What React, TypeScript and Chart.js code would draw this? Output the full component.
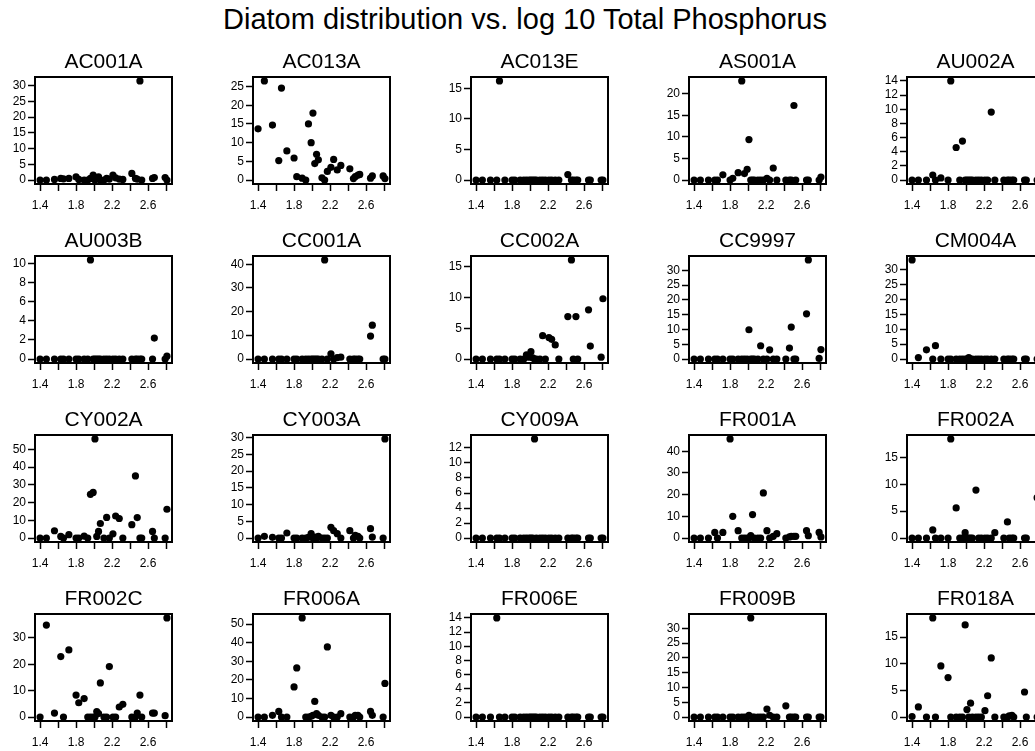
import React, { useEffect, useRef } from "react";
import { Chart, registerables } from "chart.js";

Chart.register(...registerables);

const FONT = '"Liberation Sans", Arial, Helvetica, sans-serif';

const mainTitle = "Diatom distribution vs. log 10 Total Phosphorus";

// log10 total phosphorus of each sampling site
const logTP = [
  1.4, 1.47, 1.56, 1.63, 1.66, 1.72, 1.8, 1.83, 1.89, 1.93, 1.96, 1.99, 2.01, 2.03, 2.05, 2.07,
  2.11, 2.14, 2.17, 2.21, 2.24, 2.28, 2.32, 2.42, 2.46, 2.48, 2.51, 2.53, 2.65, 2.67, 2.79, 2.81,
];

const xTicks = [1.4, 1.6, 1.8, 2.0, 2.2, 2.4, 2.6, 2.8];
const xTickLabels = ["1.4", "1.8", "2.2", "2.6"];

const taxa = [
  "AC001A", "AC013A", "AC013E", "AS001A", "AU002A",
  "AU003B", "CC001A", "CC002A", "CC9997", "CM004A",
  "CY002A", "CY003A", "CY009A", "FR001A", "FR002A",
  "FR002C", "FR006A", "FR006E", "FR009B", "FR018A",
];

// y tick step for each panel
const yTickSteps = [5, 5, 5, 5, 2, 2, 10, 5, 5, 5, 10, 5, 2, 10, 5, 10, 10, 2, 5, 5];

// abundance (%) of each taxon at each site (same order as logTP)
const ac001a = [0, 0, 0.2, 0.5, 0.4, 0.5, 1.0, 0.2, 0, 0, 0.5, 1.6, 0, 0.8, 1.0, 0, 0, 0.5, 0.3, 1.6, 0.7, 0.3, 0.2, 2.1, 0.5, 0.3, 31.5, 0, 0.5, 0.8, 0.8, 0];
const ac013a = [13.7, 26.5, 14.7, 5.2, 24.6, 7.8, 5.9, 0.9, 0.5, 0, 15.0, 10.0, 17.9, 4.4, 6.9, 5.4, 0.6, 0, 2.3, 3.4, 5.5, 2.7, 3.9, 3.0, 0.4, 0.9, 1.3, 1.5, 0.5, 1.1, 1.1, 0.4];
const ac013e = [0, 0, 0, 0, 16.2, 0, 0, 0, 0, 0, 0, 0, 0, 0, 0, 0, 0, 0, 0, 0, 0, 0, 0, 0.9, 0, 0, 0, 0, 0, 0, 0, 0];
const as001a = [0, 0, 0, 0, 0, 1.2, 0, 0.4, 1.7, 23.0, 1.5, 2.5, 9.4, 0, 0, 0, 0, 0, 0, 0.4, 0, 2.8, 0, 0, 0, 0, 17.3, 0, 0, 0, 0, 0.7];
const au002a = [0, 0, 0, 0.7, 0, 0.3, 0, 14.0, 4.6, 0, 5.5, 0, 0, 0, 0, 0, 0, 0, 0, 0, 0, 9.6, 0, 0, 0, 0, 0, 0, 0, 0, 0, 0];
const au003b = [0, 0, 0, 0, 0, 0, 0, 0, 0, 0, 10.4, 0, 0, 0, 0, 0, 0, 0, 0, 0, 0, 0, 0, 0, 0, 0, 0, 0, 0, 2.2, 0, 0.3];
const cc001a = [0, 0, 0, 0, 0, 0, 0, 0, 0, 0, 0, 0, 0, 0, 0, 0, 0, 41.8, 0, 2.2, 0, 0.6, 0.8, 0, 0, 0, 0, 0, 9.7, 14.3, 0, 0];
const cc002a = [0, 0, 0, 0, 0, 0, 0, 0, 0, 0, 0.7, 0.3, 1.2, 0.2, 0, 0, 0, 3.8, 0, 3.5, 3.2, 2.3, 0, 6.9, 16.1, 0, 6.9, 0, 8.0, 2.1, 0.3, 9.8];
const cc9997 = [0, 0, 0, 0, 0, 0, 0, 0, 0, 0, 0, 0, 9.9, 0, 0, 0, 0, 4.5, 0, 0, 3.1, 0, 0, 0, 3.7, 10.8, 0, 0, 15.3, 33.5, 0.2, 3.2];
const cm004a = [33.3, 0.5, 3.1, 0, 4.5, 0, 0, 0, 0, 0, 0, 0, 0, 0.5, 0, 0, 0, 0, 0, 0, 0, 0, 0, 0, 0, 0, 0, 0, 0, 0, 0, 0];
const cy002a = [0, 0, 4.1, 0.9, 0, 1.9, 0, 0, 1.1, 0, 24.6, 25.7, 55.8, 0.9, 3.7, 8.2, 0, 11.6, 0, 2.4, 12.4, 11.0, 0, 7.5, 35.0, 11.5, 0, 0, 3.7, 0, 0, 16.2];
const cy003a = [0, 0.5, 0.2, 0, 0, 1.5, 0, 0, 0, 0, 0.2, 1.3, 0, 0.3, 0, 0.5, 0, 0, 0, 3.2, 2.2, 1.3, 0, 2.2, 0, 0.8, 0.5, 0, 2.8, 0.3, 0, 29.6];
const cy009a = [0, 0, 0, 0, 0, 0, 0, 0, 0, 0, 0, 0, 0, 0, 13.2, 0, 0, 0, 0, 0, 0, 0, 0, 0, 0, 0, 0, 0, 0, 0, 0, 0];
const fr001a = [0, 0, 0, 2.6, 0, 2.6, 45.7, 10.0, 3.4, 0, 0, 0, 0, 1.1, 10.8, 0, 0, 0, 20.8, 3.4, 0, 0.8, 2.0, 0, 0.5, 0.8, 0.8, 0.8, 3.4, 1.1, 2.6, 0.5];
const fr002a = [0, 0, 0, 1.5, 0, 0, 0, 18.4, 5.6, 0, 0, 1.0, 0, 0, 0, 0, 8.9, 0, 0, 0, 0, 0, 1.0, 0, 3.0, 0, 0, 0, 0, 0, 7.5, 0];
const fr002c = [0, 34.8, 1.5, 22.9, 0, 25.4, 8.3, 5.4, 7.0, 0, 0, 0, 0, 2.1, 1.3, 12.9, 0, 0, 19.1, 0, 0, 3.8, 4.8, 0, 0, 1.5, 8.3, 0, 1.5, 1.5, 0.5, 37.5];
const fr006a = [0, 0, 0.9, 3.0, 0, 0, 16.2, 26.4, 53.3, 0, 0, 0.4, 0.9, 8.4, 1.8, 0.9, 0, 0, 37.7, 0.9, 0, 0, 1.8, 0, 0, 0.9, 0.9, 0, 3.0, 0.9, 0, 18.1];
const fr006e = [0, 0, 0, 14.0, 0, 0, 0, 0, 0, 0, 0, 0, 0, 0, 0, 0, 0, 0, 0, 0, 0, 0, 0, 0, 0, 0, 0, 0, 0, 0, 0, 0];
const fr009b = [0, 0, 0, 0, 0, 0, 0, 0, 0, 0, 0, 0, 0.6, 33.5, 0, 0, 0, 0, 0, 2.7, 0.6, 0, 0, 3.8, 0, 0, 0, 0, 0, 0, 0, 0];
const fr018a = [0.1, 1.9, 0, 18.6, 0, 9.6, 7.4, 0, 0, 0, 0, 17.3, 1.4, 0, 2.6, 0, 0, 0, 0, 1.2, 4.0, 11.1, 0, 0, 0, 0.2, 0.3, 0, 4.7, 0, 0, 0];

const panelValues = [
  ac001a, ac013a, ac013e, as001a, au002a,
  au003b, cc001a, cc002a, cc9997, cm004a,
  cy002a, cy003a, cy009a, fr001a, fr002a,
  fr002c, fr006a, fr006e, fr009b, fr018a,
];

const COL_STEP = 218;
const ROW_STEP = 179;
const Y_AXIS_W = 35;
const TITLE_H = 27;
const PLOT_W = 137;
const PLOT_H = 107;
const X_AXIS_H = 30;
const PAD_R = 8;
const CANVAS_W = Y_AXIS_W + PLOT_W + PAD_R;
const CANVAS_H = TITLE_H + PLOT_H + X_AXIS_H;

const boxPlugin = {
  id: "rbox",
  afterDraw(chart: any) {
    const { ctx, chartArea } = chart;
    ctx.save();
    ctx.strokeStyle = "#000";
    ctx.lineWidth = 2;
    ctx.strokeRect(chartArea.left, chartArea.top, chartArea.right - chartArea.left, chartArea.bottom - chartArea.top);
    ctx.restore();
  },
};

function Panel({ name, values, step, col, row }: { name: string; values: number[]; step: number; col: number; row: number }) {
  const ref = useRef<HTMLCanvasElement | null>(null);
  useEffect(() => {
    if (!ref.current) return;
    const ymax = Math.max(...values);
    const ymin = Math.min(...values);
    const yr = ymax - ymin;
    const yTicks: number[] = [];
    for (let v = 0; v <= ymax + 0.04 * yr + 1e-9; v += step) yTicks.push(v);
    const xMin = Math.min(...logTP);
    const xMax = Math.max(...logTP);
    const xr = xMax - xMin;
    const chart = new Chart(ref.current, {
      type: "scatter",
      data: {
        datasets: [
          {
            data: logTP.map((x, i) => ({ x, y: values[i] })),
            pointRadius: 3.6,
            pointHoverRadius: 3.6,
            pointBackgroundColor: "#000",
            pointBorderWidth: 0,
            borderWidth: 0,
            showLine: false,
            clip: false,
          } as any,
        ],
      },
      options: {
        responsive: false,
        animation: false,
        devicePixelRatio: 1,
        events: [],
        layout: { padding: { left: 0, right: PAD_R, top: 0, bottom: 0 } },
        plugins: {
          legend: { display: false },
          tooltip: { enabled: false },
          title: {
            display: true,
            fullSize: false,
            align: "center",
            text: name,
            color: "#000",
            font: { family: FONT, size: 21, weight: "normal", lineHeight: "25px" } as any,
            padding: { top: 0, bottom: 2 },
          },
        },
        scales: {
          x: {
            type: "linear",
            min: xMin - 0.04 * xr,
            max: xMax + 0.04 * xr,
            afterBuildTicks: (s: any) => {
              s.ticks = xTicks.map((v) => ({ value: v }));
            },
            afterFit: (s: any) => {
              s.height = X_AXIS_H;
            },
            grid: { display: true, drawOnChartArea: false, drawTicks: true, tickLength: 7, tickColor: "#000", tickWidth: 1.5 },
            border: { display: true, color: "#000", width: 2 },
            ticks: {
              autoSkip: false,
              maxRotation: 0,
              minRotation: 0,
              padding: 7,
              color: "#000",
              font: { family: FONT, size: 12 },
              callback: (v: any) => {
                const s = Number(v).toFixed(1);
                return xTickLabels.includes(s) ? s : "";
              },
            },
          },
          y: {
            type: "linear",
            min: ymin - 0.04 * yr,
            max: ymax + 0.04 * yr,
            afterBuildTicks: (s: any) => {
              s.ticks = yTicks.map((v) => ({ value: v }));
            },
            afterFit: (s: any) => {
              s.width = Y_AXIS_W;
            },
            grid: { display: true, drawOnChartArea: false, drawTicks: true, tickLength: 7, tickColor: "#000", tickWidth: 1.5 },
            border: { display: true, color: "#000", width: 2 },
            ticks: {
              autoSkip: false,
              padding: 2,
              color: "#000",
              font: { family: FONT, size: 12 },
              callback: (v: any) => String(Math.round(Number(v) * 100) / 100),
            },
          },
        },
      },
      plugins: [boxPlugin],
    });
    return () => chart.destroy();
  }, [values, step, name]);

  return (
    <canvas
      ref={ref}
      width={CANVAS_W}
      height={CANVAS_H}
      style={{
        position: "absolute",
        left: col * COL_STEP,
        top: 50 + row * ROW_STEP,
        width: CANVAS_W,
        height: CANVAS_H,
      }}
    />
  );
}

export default function App() {
  return (
    <div
      style={{
        position: "absolute",
        left: 0,
        top: 0,
        width: 1035,
        height: 751,
        overflow: "hidden",
        background: "#fff",
      }}
    >
      <div
        style={{
          position: "absolute",
          left: 0,
          top: 5,
          width: 1050,
          textAlign: "center",
          fontFamily: FONT,
          fontSize: 29,
          lineHeight: "29px",
          color: "#000",
          whiteSpace: "nowrap",
        }}
      >
        {mainTitle}
      </div>
      {taxa.map((name, i) => (
        <Panel
          key={name}
          name={name}
          values={panelValues[i]}
          step={yTickSteps[i]}
          col={i % 5}
          row={Math.floor(i / 5)}
        />
      ))}
    </div>
  );
}
